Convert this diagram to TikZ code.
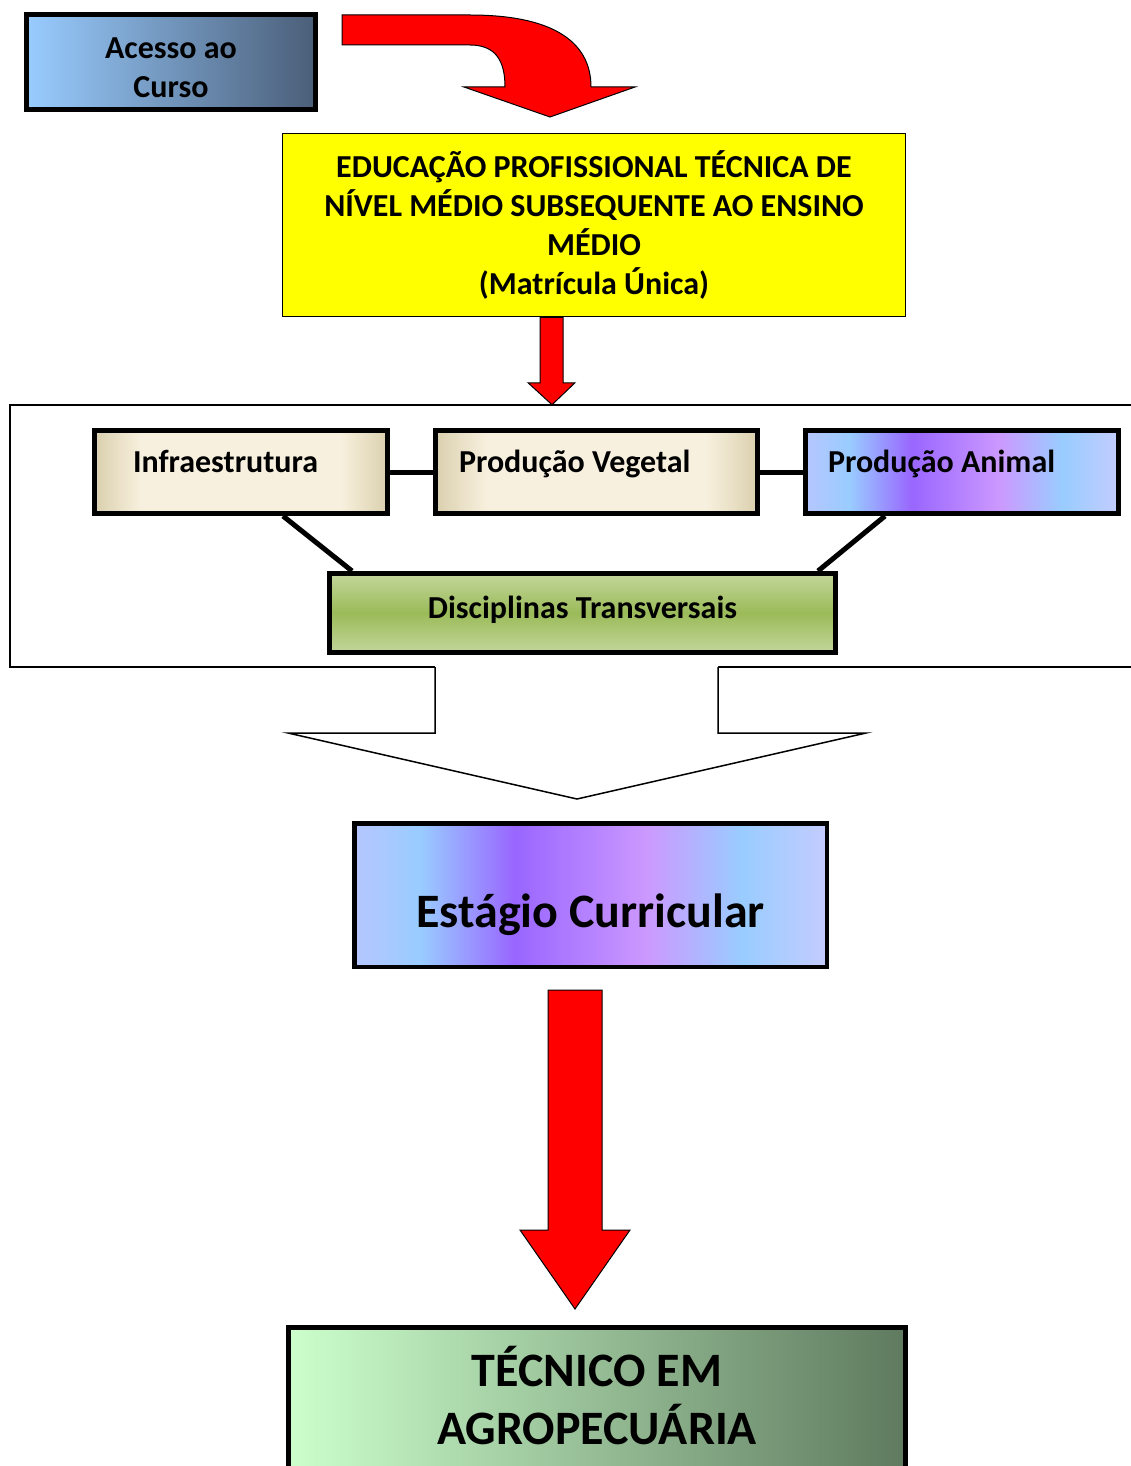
\documentclass[tikz,border=0pt]{standalone}
\usepackage{fontspec}
\setmainfont{Carlito}

\definecolor{acessoA}{RGB}{153,204,255}
\definecolor{acessoB}{RGB}{74,94,120}
\definecolor{amarelo}{RGB}{255,255,0}
\definecolor{begeE}{RGB}{218,208,174}
\definecolor{begeC}{RGB}{248,240,222}
\definecolor{lilasA}{RGB}{182,198,255}
\definecolor{azulC}{RGB}{153,204,255}
\definecolor{roxo}{RGB}{153,102,255}
\definecolor{lilasB}{RGB}{204,153,255}
\definecolor{lilasD}{RGB}{196,204,255}
\definecolor{verdeC}{RGB}{195,214,155}
\definecolor{verdeE}{RGB}{155,187,89}
\definecolor{tecA}{RGB}{204,255,204}
\definecolor{tecB}{RGB}{95,122,95}

\pgfdeclarehorizontalshading{bege}{100bp}{color(0bp)=(begeE); color(25bp)=(begeE); color(33bp)=(begeC); color(67bp)=(begeC); color(75bp)=(begeE); color(100bp)=(begeE)}
\pgfdeclarehorizontalshading{lilas}{100bp}{color(0bp)=(lilasA); color(25bp)=(lilasA); color(32bp)=(azulC); color(42bp)=(roxo); color(56bp)=(lilasB); color(66bp)=(azulC); color(75bp)=(lilasD); color(100bp)=(lilasD)}

\begin{document}
\begin{tikzpicture}[x=1pt, y=-1pt,
    caixa/.style={draw, line width=5pt, inner sep=0pt, align=center, font=\bfseries\fontsize{32}{39}\selectfont},
    modulo/.style={caixa, align=flush left, text height=15pt, text depth=15pt, minimum height=83pt},
    grande/.style={font=\bfseries\fontsize{48}{58}\selectfont},
    seta/.style={fill=red, draw=black, line width=1pt, line join=miter},
    ligacao/.style={line width=5pt}]

    \useasboundingbox (0,0) rectangle (1130,1466);

    % Entrada
    \node[caixa, minimum width=289pt, minimum height=95pt, left color=acessoA, right color=acessoB] (acesso) at (171,62) {\rule{0pt}{32pt}Acesso ao\\Curso};
    \node[caixa, line width=1.5pt, fill=amarelo, minimum width=623pt, minimum height=183pt] (edu) at (594,225)
        {EDUCAÇÃO PROFISSIONAL TÉCNICA DE\\NÍVEL MÉDIO SUBSEQUENTE AO ENSINO\\MÉDIO\\(Matrícula Única)};
    \draw[seta] ([xshift=24pt, yshift=-3pt]acesso.north east) -- ++(128,0)
          .. controls +(80,0) and +(0,-47) .. ++(121,72) -- ++(44,0) -- ++(-85,30) -- ++(-86,-30) -- ++(41,0)
          .. controls +(0,-27) and +(25,0) .. ++(-35,-42) -- ++(-128,0) -- cycle;

    % Modulos
    \node[draw, line width=1.5pt, minimum width=1134pt, minimum height=262pt] (modulos) at (577,536) {};
    \draw[seta] ([xshift=-54pt]edu.south) -- ++(0,65.5) -- ++(-12,0) -- ++(24,22) -- ++(23,-22) -- ++(-12,0) -- ++(0,-65.5) -- cycle;

    \node[modulo, shading=bege, text width=216pt, inner xsep=38.5pt] (infra) at (241,472) {Infraestrutura};
    \node[modulo, shading=bege, text width=275pt, inner xsep=23.5pt] (vegetal) at (596.5,472) {Produção Vegetal};
    \node[modulo, shading=lilas, text width=268pt, inner xsep=22.5pt] (animal) at (962,472) {Produção Animal};
    \node[caixa, top color=verdeC, bottom color=verdeC, middle color=verdeE, minimum width=506pt, minimum height=79pt,
          text height=20pt, text depth=10pt] (disc) at (582.5,613) {Disciplinas Transversais};

    \draw[ligacao] (infra) -- (vegetal);
    \draw[ligacao] (vegetal) -- (animal);
    \draw[ligacao] ([xshift=42pt]infra.south) -- ([xshift=-230.5pt]disc.north);
    \draw[ligacao] ([xshift=-77pt]animal.south) -- ([xshift=235.5pt]disc.north);

    % Seta vazada
    \fill[white] ([xshift=-142pt, yshift=2pt]modulos.south) -- ++(0,68) -- ++(-147,0) -- ++(289,66) -- ++(289,-66) -- ++(-148,0) -- ++(0,-68) -- cycle;
    \draw[line width=1.5pt] ([xshift=-142pt, yshift=0.75pt]modulos.south) -- ++(0,66) -- ++(-147,0) -- ++(289,66) -- ++(289,-66) -- ++(-148,0) -- ++(0,-66);

    % Estagio e saida
    \node[caixa, grande, line width=4.5pt, shading=lilas, minimum width=472.5pt, minimum height=143.5pt,
          text height=64pt, text depth=0pt] (estagio) at (590.5,895) {Estágio Curricular};
    \node[caixa, grande, left color=tecA, right color=tecB, minimum width=617pt, minimum height=150pt,
          text depth=15pt] (tecnico) at (597,1402.5) {TÉCNICO EM\\AGROPECUÁRIA};
    \draw[seta] ([xshift=-42.5pt, yshift=-21pt]estagio.south) -- ++(0,240) -- ++(-28,0) -- ++(55,79) -- ++(55,-79) -- ++(-28,0) -- ++(0,-240) -- cycle;

\end{tikzpicture}
\end{document}
